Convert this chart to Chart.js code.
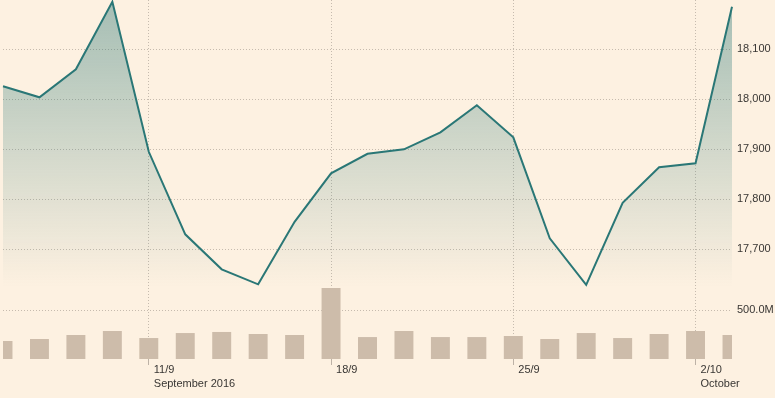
<!DOCTYPE html>
<html>
<head>
<meta charset="utf-8">
<script src="https://cdn.jsdelivr.net/npm/chart.js@4"></script>
<style>
  html, body { margin: 0; padding: 0; background: #fdf1e1; }
  #wrap { width: 775px; height: 398px; position: relative; }
</style>
</head>
<body>
<div id="wrap"><canvas id="chart"></canvas></div>
<script>
// trading days shown on the chart
const days = ["6/9", "7/9", "8/9", "9/9", "12/9", "13/9", "14/9", "15/9", "16/9", "19/9", "20/9",
    "21/9", "22/9", "23/9", "26/9", "27/9", "28/9", "29/9", "30/9", "3/10", "4/10"];

// index level (close)
const prices = [18026, 18004, 18060, 18195, 17895, 17730, 17660, 17630, 17755, 17852, 17891,
    17900, 17934, 17988, 17924, 17722, 17629, 17793, 17864, 17872, 18185];

// volume, millions
const volumes = [184, 204, 245, 286, 214, 265, 276, 255, 245, 724, 224,
    286, 224, 224, 235, 204, 265, 214, 255, 286, 245];

// x tick positions and their labels
const tickIndex = [4, 9, 14, 19];
const tickLabels = [["11/9", "September 2016"], ["18/9"], ["25/9"], ["2/10", "October"]];

const priceTicks = [17700, 17800, 17900, 18000, 18100];
const volumeTicks = [500];

const gridColor = "#c6bbae";
const textColor = "#383633";
const font = { family: "'Liberation Sans', Arial, sans-serif", size: 11, lineHeight: 1.36 };

// y axes: fixed width, no extra padding for labels
function fitRight(scale) {
    scale.width = 43;
    scale.paddingTop = 0;
    scale.paddingBottom = 0;
}

const ctx = document.getElementById("chart").getContext("2d");
new Chart(ctx, {
    type: "line",
    data: {
        labels: days,
        datasets: [{
            type: "line",
            data: prices,
            yAxisID: "price",
            borderColor: "#2a7776",
            borderWidth: 2,
            pointRadius: 0,
            tension: 0,
            fill: "start",
            backgroundColor: (c) => {
                const chart = c.chart;
                const area = chart.chartArea;
                if (!area) return "rgba(42,119,118,0.3)";
                const bottom = chart.scales.price ? chart.scales.price.bottom : area.bottom;
                const g = chart.ctx.createLinearGradient(0, area.top, 0, bottom);
                g.addColorStop(0, "rgba(42,119,118,0.42)");
                g.addColorStop(1, "rgba(42,119,118,0)");
                return g;
            },
            order: 1
        }, {
            type: "bar",
            data: volumes,
            yAxisID: "volume",
            backgroundColor: "#cdbcaa",
            categoryPercentage: 1,
            barPercentage: 0.52,
            order: 2
        }]
    },
    options: {
        responsive: true,
        maintainAspectRatio: false,
        animation: false,
        layout: { padding: { left: 3, top: 0, right: 0, bottom: 0 }, autoPadding: false },
        plugins: {
            legend: { display: false },
            tooltip: { enabled: false }
        },
        scales: {
            x: {
                type: "category",
                offset: false,
                grid: {
                    offset: false,
                    color: gridColor,
                    tickColor: "#bdb2a6",
                    tickLength: 6
                },
                border: { display: false, dash: [1, 2] },
                afterBuildTicks: (scale) => {
                    scale.ticks = tickIndex.map((i) => ({ value: i }));
                },
                afterFit: (scale) => {
                    scale.height = 39;
                    scale.paddingLeft = 0;
                    scale.paddingRight = 0;
                },
                ticks: {
                    autoSkip: false,
                    maxRotation: 0,
                    align: "start",
                    labelOffset: 5,
                    padding: -3,
                    color: textColor,
                    font: font,
                    callback: (value) => tickLabels[tickIndex.indexOf(value)]
                }
            },
            price: {
                type: "linear",
                position: "right",
                stack: "right",
                stackWeight: 287,
                min: 17624.6,
                max: 18198.6,
                grid: { color: gridColor, drawTicks: false },
                border: { display: false, dash: [1, 2] },
                afterBuildTicks: (scale) => {
                    scale.ticks = priceTicks.map((v) => ({ value: v }));
                },
                afterFit: fitRight,
                ticks: {
                    padding: 5,
                    color: textColor,
                    font: font,
                    callback: (v) => v.toLocaleString("en-US")
                }
            },
            volume: {
                type: "linear",
                position: "right",
                stack: "right",
                stackWeight: 72,
                min: 0,
                max: 735,
                grid: { color: gridColor, drawTicks: false },
                border: { display: false, dash: [1, 2] },
                afterBuildTicks: (scale) => {
                    scale.ticks = volumeTicks.map((v) => ({ value: v }));
                },
                afterFit: fitRight,
                ticks: {
                    padding: 5,
                    color: textColor,
                    font: font,
                    callback: (v) => v.toFixed(1) + "M"
                }
            }
        }
    }
});
</script>
</body>
</html>
